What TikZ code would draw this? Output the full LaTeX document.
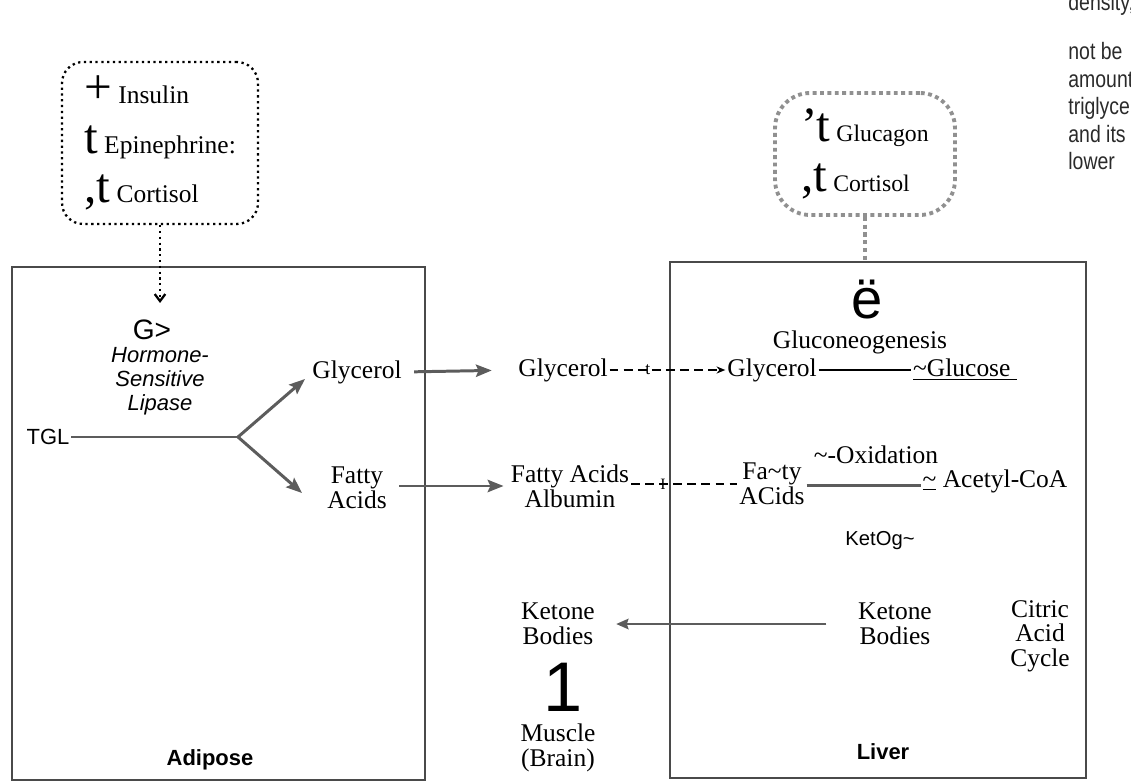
\documentclass[tikz,border=0pt]{standalone}
\usepackage{fontspec}
\setmainfont{Liberation Serif}
\setsansfont{Liberation Sans}
\newfontfamily\notefont{Liberation Sans}[FakeStretch=0.82]
\usetikzlibrary{arrows.meta, fit}
\definecolor{organgray}{HTML}{4A4A4A}
\definecolor{flowgray}{HTML}{5C5C5C}
\definecolor{dotgray}{HTML}{909090}
\definecolor{notegray}{HTML}{2A2A2A}
\newcommand\bigsym[1]{{\fontsize{28}{28}\selectfont #1}}

\begin{document}
\begin{tikzpicture}[x=0.02cm, y=-0.02cm,
    organ/.style={draw=organgray, line width=1.4pt, inner sep=0pt},
    hormones/.style={draw, dotted, line width=1.3pt, rounded corners=12pt, align=left, font=\fontsize{14.5}{28}\selectfont},
    label/.style={font=\fontsize{14.5}{14}\selectfont, align=center, inner sep=1pt},
    sanslabel/.style={font=\sffamily\fontsize{12.5}{13.6}\selectfont, align=center, inner sep=1pt},
    organname/.style={font=\sffamily\bfseries\fontsize{12.5}{14}\selectfont, inner sep=1pt},
    flow/.style={-{Stealth[length=9pt, width=7pt, inset=1.5pt]}, line width=1.7pt, flowgray},
    thinflow/.style={-{Stealth[length=7pt, width=6pt, inset=1pt]}, line width=1.2pt, flowgray},
    plasma/.style={dashed, line width=0.9pt, dash pattern=on 5pt off 3pt}
]
    \useasboundingbox (0,0) rectangle (1131,783);
    \clip (0,0) rectangle (1131,783);

    % Organ boxes
    \node[organ, fit={(12,267) (425,780)}] (adipose) {};
    \node[organ, fit={(670,262) (1086,778)}] (liver) {};
    \node[organname] (adiposename) at (210,760) {Adipose};
    \node[organname] (livername) at (883,752) {Liver};

    % Hormone boxes
    \node[hormones, minimum width=3.92cm, minimum height=3.24cm] (horm1) at (160,143)
        {\bigsym{+} Insulin\\\bigsym{t} Epinephrine:\\\bigsym{,t} Cortisol};
    \node[hormones, font=\fontsize{13.5}{28}\selectfont, draw=dotgray, line width=2.2pt, rounded corners=20pt, minimum width=3.6cm, minimum height=2.44cm] (horm2) at (865,154)
        {\bigsym{'t} Glucagon\\\bigsym{,t} Cortisol};

    % Adipose side
    \coordinate (hsltip) at (160,303);
    \node[font=\sffamily\fontsize{16}{16}\selectfont, inner sep=0pt] (hsl) at (152,330) {G>};
    \node[sanslabel, font=\sffamily\itshape\fontsize{12.5}{13.6}\selectfont] (hslname) at (160,381) {Hormone-\\Sensitive\\Lipase};
    \node[sanslabel] (tgl) at (48,437) {TGL};
    \coordinate (split) at (238,437);
    \node[label] (gly1) at (357,372) {Glycerol};
    \node[label, font=\fontsize{14.5}{11}\selectfont] (fa1) at (357,488) {Fatty\\Acids};
    \coordinate (fatin) at (302,493);
    \coordinate (glyin) at (305,379);

    % Blood
    \node[label] (gly2) at (563,370) {Glycerol};
    \node[label, font=\fontsize{14.5}{8}\selectfont] (fa2) at (570,486) {Fatty Acids\\Albumin};
    \node[label] (kb1) at (558,624) {Ketone\\Bodies};
    \node[font=\sffamily\fontsize{40}{40}\selectfont, inner sep=0pt] (down) at (563,687) {1};
    \node[label] (muscle) at (558,748) {Muscle\\(Brain)};

    % Liver side
    \node[font=\sffamily\fontsize{32}{32}\selectfont, inner sep=0pt] (gng) at (867,300) {ë};
    \node[label] (gngname) at (860,342) {Gluconeogenesis};
    \node[label] (gly3) at (772,370) {Glycerol};
    \node[label] (glucose) at (965,370) {\underline{\textasciitilde Glucose\ }};
    \node[label] (boxname) at (876,455) {\textasciitilde-Oxidation};
    \node[label, font=\fontsize{14.5}{10}\selectfont] (fa3) at (772,484) {Fa\textasciitilde ty\\ACids};
    \node[label] (acoa) at (995,481) {\underline{\textasciitilde}\ Acetyl-CoA};
    \node[sanslabel, font=\sffamily\fontsize{11.5}{14}\selectfont] (keto) at (880,541) {KetOg\textasciitilde};
    \node[label] (kb2) at (895,624) {Ketone\\Bodies};
    \node[label] (tca) at (1040,636) {Citric\\Acid\\Cycle};

    % Side note (cut by the page edge)
    \node[anchor=base west, text=notegray, inner sep=0pt, font=\notefont\fontsize{13.5}{13.5}\selectfont] (notetop) at (1068,11) {density,};
    \node[anchor=north west, align=left, text=notegray, inner sep=0pt,
          font=\notefont\fontsize{13.5}{15.7}\selectfont] (note) at (1068,42)
        {not be\\amount\\triglycerides\\and its\\lower};

    % Connectors
    \draw[dotted, line width=1.3pt, -{Straight Barb[length=4pt, width=6pt]}] (horm1.south) -- (hsltip);
    \draw[dotted, line width=2.4pt, dotgray] (horm2.south) -- (horm2.south |- liver.north);
    \draw[line width=1.4pt, flowgray] (tgl.east) -- (split);
    \draw[flow] (split) -- (glyin);
    \draw[flow] (split) -- (fatin);
    \draw[flow, shorten <=6pt, shorten >=14pt] (gly1.east) -- (gly2.west);
    \draw[flow, shorten <=6pt, shorten >=3pt] (fa1.east |- fa2) -- (fa2.west);
    \draw[plasma, -{Stealth[length=5pt, width=4pt]}] (gly2.east) -- node[pos=0.33, font=\fontsize{10}{10}\selectfont, inner sep=0pt] {t} (gly3.west);
    \draw[plasma] (fa2.east |- fa3) -- node[pos=0.3, font=\fontsize{9}{9}\selectfont, inner sep=0pt] {I} (fa3.west);
    \draw[line width=1pt] (gly3.east) -- (glucose.west);
    \draw[line width=1.6pt, flowgray] ([yshift=-1pt]fa3.east) -- ([yshift=-1pt]fa3.east -| acoa.west);
    \draw[thinflow, shorten <=17pt, shorten >=11pt] (kb2.west) -- (kb1.east);
\end{tikzpicture}
\end{document}
